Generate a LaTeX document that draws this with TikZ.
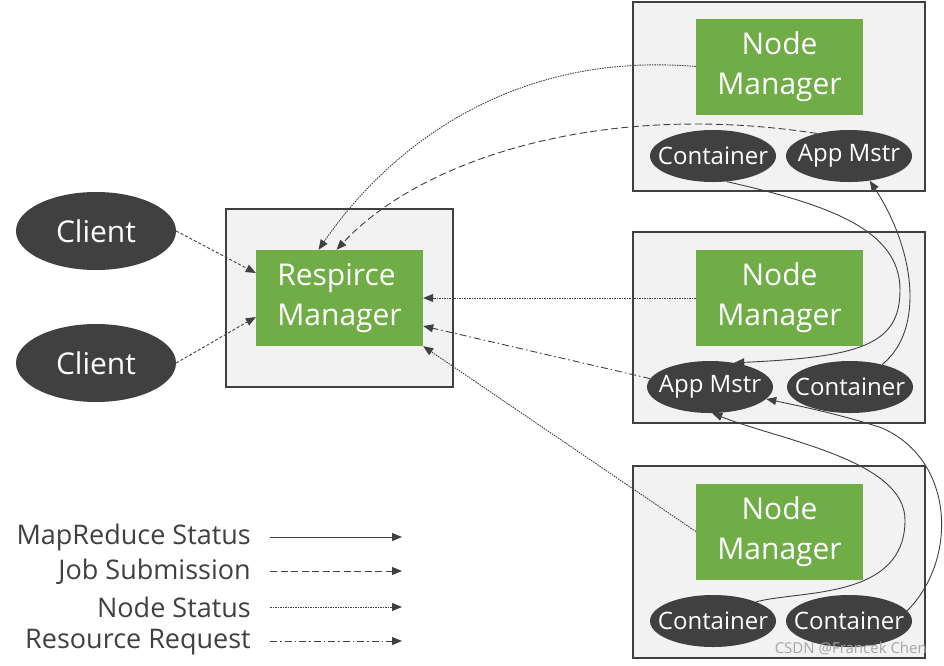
\documentclass[tikz,border=0pt]{standalone}
\usepackage{fontspec}
\setmainfont{Open Sans}
\usetikzlibrary{shapes.geometric,arrows.meta}
\definecolor{dk}{HTML}{404040}
\definecolor{gr}{HTML}{70AD47}
\definecolor{lg}{HTML}{F2F2F2}
\begin{document}
\begin{tikzpicture}[x=1pt,y=-1pt,
  outerbox/.style={draw=dk,fill=lg,line width=2.4pt,inner sep=0pt},
  greenbox/.style={fill=gr,text=white,inner sep=0pt,minimum width=167pt,minimum height=96pt,
    font=\fontsize{30}{40}\selectfont,align=center},
  darkell/.style={ellipse,fill=dk,text=white,inner xsep=-12pt,inner ysep=0pt,minimum width=126pt,minimum height=52pt,
    font=\fontsize{24}{28}\selectfont},
  clientell/.style={ellipse,fill=dk,text=white,inner sep=0pt,minimum width=160pt,minimum height=78pt,
    font=\fontsize{30}{36}\selectfont},
  conn/.style={draw=dk,line width=0.9pt,-{Triangle[length=10pt,width=8pt]}},
  mrstat/.style={conn},
  jobsub/.style={conn,dash pattern=on 7pt off 3.5pt},
  nodestat/.style={conn,dash pattern=on 1.5pt off 1pt},
  resreq/.style={conn,dash pattern=on 7pt off 3pt on 1.5pt off 3pt},
  clisub/.style={conn,dash pattern=on 3pt off 2pt},
  legtext/.style={anchor=east,text=dk,inner sep=0pt,font=\fontsize{27}{30}\selectfont}
]
\useasboundingbox[fill=white] (0,0) rectangle (944,665);

% outer boxes
\node[outerbox,minimum width=227pt,minimum height=178pt] (rmbox) at (339.5,298) {};
\node[outerbox,minimum width=292pt,minimum height=189pt] (nmbox1) at (779,96.5) {};
\node[outerbox,minimum width=292pt,minimum height=191pt] (nmbox2) at (779,327.5) {};
\node[outerbox,minimum width=292pt,minimum height=192pt] (nmbox3) at (779,562) {};

% green boxes
\node[greenbox,align=left] (rm) at (339.5,298) {Respirce\\Manager};
\node[greenbox] (nm1) at (779.5,66.5) {Node\\Manager};
\node[greenbox] (nm2) at (779.5,298) {Node\\Manager};
\node[greenbox] (nm3) at (779.5,531.5) {Node\\Manager};

% ellipses
\node[darkell] (c1) at (713,156) {Container};
\node[darkell] (a1) at (849,156) {App Mstr};
\node[darkell] (a2) at (710,387) {App Mstr};
\node[darkell] (c2) at (850,387) {Container};
\node[darkell] (c3) at (713,621) {Container};
\node[darkell] (c4) at (849,621) {Container};

% clients
\node[clientell] (cl1) at (96,231) {Client};
\node[clientell] (cl2) at (96,363) {Client};

% client submissions
\draw[clisub] (cl1.east) -- ([yshift=25pt]rm.west);
\draw[clisub] (cl2.east) -- ([yshift=-19pt]rm.west);

% node managers to resource manager
\draw[nodestat] (nm1.west) .. controls (500,50) and (380,160) .. ([xshift=-21pt]rm.north);
\draw[jobsub] (a1.145) .. controls (600,100) and (420,160) .. ([xshift=-3pt]rm.north);
\draw[nodestat] (nm2.west) -- (rm.east);
\draw[resreq] (a2.172) -- ([yshift=-28pt]rm.east);
\draw[nodestat] (nm3.west) -- (rm.south east);

% mapreduce status
\draw[mrstat] (c1.-62) .. controls (830,205) and (900,230) .. (900,290)
  .. controls (900,345) and (860,357) .. (a2.45);
\draw[mrstat] (c2.35) .. controls (925,330) and (915,250) .. (a1.-50);
\draw[mrstat] (c3.24) .. controls (800,590) and (905,600) .. (905,520)
  .. controls (905,460) and (780,440) .. (a2.-85);
\draw[mrstat] (c4.10) .. controls (958,560) and (955,460) .. (882,428)
  .. controls (840,414) and (790,404) .. (a2.-12);

% legend
\node[legtext] (l1) at (251,537) {MapReduce Status};
\node[legtext] (l2) at (251,572) {Job Submission};
\node[legtext] (l3) at (251,607) {Node Status};
\node[legtext] (l4) at (251,642) {Resource Request};
\coordinate (l1a) at (270,537); \coordinate (l1b) at (402,537);
\coordinate (l2a) at (270,571); \coordinate (l2b) at (402,571);
\coordinate (l3a) at (270,607); \coordinate (l3b) at (402,607);
\coordinate (l4a) at (270,641); \coordinate (l4b) at (402,641);
\draw[mrstat] (l1a) -- (l1b);
\draw[jobsub] (l2a) -- (l2b);
\draw[nodestat] (l3a) -- (l3b);
\draw[resreq] (l4a) -- (l4b);

% watermark
\node[anchor=east,text=black!35,inner sep=0pt,font=\fontsize{15}{18}\selectfont] (wm) at (927,648) {CSDN @Francek Chen};
\end{tikzpicture}
\end{document}
